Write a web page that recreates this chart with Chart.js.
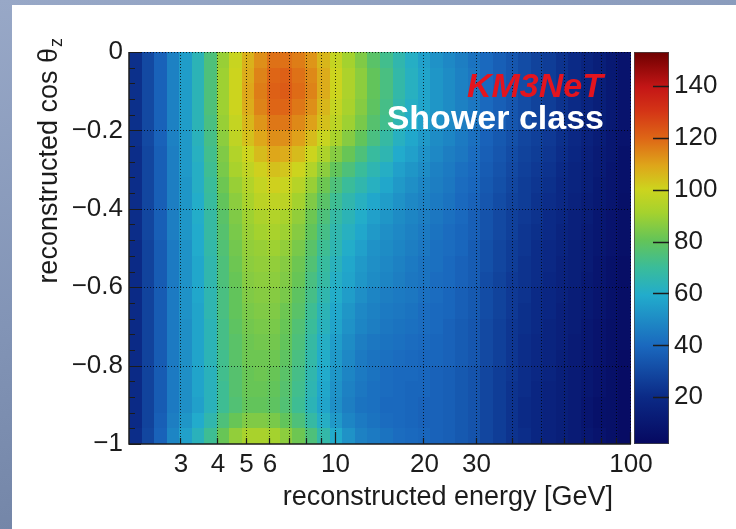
<!DOCTYPE html>
<html>
<head>
<meta charset="utf-8">
<title>Shower class: reconstructed energy vs cos theta</title>
<script src="https://cdn.jsdelivr.net/npm/chart.js@4/dist/chart.umd.min.js"></script>
<style>
  html, body { margin: 0; padding: 0; }
  body {
    width: 736px; height: 529px; overflow: hidden; position: relative;
    background: linear-gradient(165deg, #98a8c7 0%, #8294b6 45%, #67799b 100%);
  }
  #panel { position: absolute; left: 12px; top: 5px; right: 0; bottom: 0; background: #ffffff; }
  #c { position: absolute; left: 0; top: 0; }
</style>
</head>
<body>
<div id="panel"></div>
<canvas id="c" width="736" height="529"></canvas>
<script>
// Energy bin edges [GeV], 40 logarithmic bins from 2 to 100
const energyEdges = [2, 2.205, 2.432, 2.682, 2.957, 3.261, 3.596, 3.965, 4.372, 4.821,
  5.317, 5.864, 6.466, 7.130, 7.862, 8.669, 9.560, 10.54, 11.62, 12.82,
  14.14, 15.60, 17.20, 18.97, 20.91, 23.06, 25.43, 28.05, 30.93, 34.10,
  37.61, 41.47, 45.73, 50.43, 55.61, 61.33, 67.63, 74.57, 82.24, 90.69, 100];

// cos(theta_z) bin edges, top row first
const cosEdges = [0, -0.04, -0.08, -0.12, -0.16, -0.2, -0.24, -0.28, -0.32, -0.36, -0.4,
  -0.44, -0.48, -0.52, -0.56, -0.6, -0.64, -0.68, -0.72, -0.76, -0.8,
  -0.84, -0.88, -0.92, -0.96, -1];

// Event counts per bin, one line per cos(theta_z) row (top row first), 40 energy bins each
const counts = [
  [22,30,38,47,55,64,75,89,99,107,113,118,118,116,112,106,98,91,85,78,72,66,61,56,52,49,46,43,40,37,34,31,28,26,23,20,17,14,11,8],
  [22,30,38,47,55,64,75,90,100,108,115,120,121,118,114,108,100,93,87,80,74,67,62,57,53,50,47,44,40,37,34,31,28,26,23,20,17,14,11,8],
  [22,30,38,47,55,64,75,90,100,109,116,121,122,119,115,108,100,93,87,80,74,67,62,57,53,50,47,44,40,37,34,31,28,26,23,20,17,14,11,8],
  [22,30,38,47,55,64,75,90,100,108,115,120,120,117,113,106,98,92,86,79,73,66,61,57,53,50,47,44,40,37,34,31,28,26,23,20,17,14,11,8],
  [22,30,38,47,55,64,74,89,98,106,112,117,117,114,110,104,96,90,84,77,72,65,60,56,52,49,46,43,40,37,34,31,28,26,23,20,17,14,11,8],
  [22,30,38,47,54,63,73,87,97,104,109,113,113,110,105,99,92,86,80,74,68,62,58,54,50,48,45,42,38,35,32,29,27,25,22,19,16,13,10,8],
  [21,29,37,46,54,62,72,85,94,100,105,109,108,105,100,93,86,81,75,69,65,59,56,52,49,46,44,41,37,34,31,28,26,24,21,18,15,12,10,7],
  [21,29,37,46,54,61,71,84,92,97,101,104,103,100,94,87,80,75,70,65,61,56,53,50,47,45,42,40,36,33,30,27,25,23,20,17,14,12,9,7],
  [21,29,37,46,53,61,70,82,89,94,98,101,99,95,89,82,75,70,66,62,58,54,51,48,46,44,41,39,35,32,29,26,24,22,19,17,14,11,9,7],
  [21,29,37,46,53,60,69,80,87,92,96,97,96,91,85,78,71,66,62,58,55,52,49,47,45,43,40,38,34,31,28,26,23,21,19,16,13,11,9,6],
  [21,29,37,46,53,60,68,78,85,90,93,94,92,88,82,75,68,64,60,56,53,50,48,46,44,42,40,37,33,30,27,25,23,20,18,15,13,10,8,6],
  [21,29,37,46,53,59,68,77,84,89,91,92,90,86,80,73,66,62,58,54,51,49,47,45,43,41,39,37,33,30,27,24,22,20,17,15,12,10,8,6],
  [20,28,36,45,52,59,67,76,83,88,89,90,88,84,78,71,65,60,56,52,50,48,46,44,42,41,39,36,32,29,26,24,21,19,17,14,12,10,8,6],
  [20,28,36,45,52,58,66,75,82,87,88,88,86,82,76,69,63,58,54,51,49,47,45,43,42,40,38,36,32,29,26,23,21,19,16,14,12,9,7,5],
  [20,28,36,45,52,58,66,75,81,86,87,87,85,81,74,68,61,57,53,50,48,46,44,43,41,40,38,36,31,28,25,23,21,18,16,14,11,9,7,5],
  [20,28,36,45,52,58,65,74,80,85,86,86,84,79,73,66,60,55,51,48,46,45,44,42,41,39,37,35,31,28,25,23,20,18,16,13,11,9,7,5],
  [20,28,36,45,52,57,65,74,80,84,85,85,82,78,71,64,58,53,49,47,45,44,43,41,40,39,37,35,31,28,25,22,20,18,15,13,11,9,7,5],
  [20,28,36,45,51,57,64,73,79,83,84,84,81,76,70,63,57,52,48,46,44,43,42,41,40,38,36,34,30,27,24,22,20,17,15,13,10,8,6,5],
  [20,28,36,45,51,57,64,73,78,82,83,83,80,75,68,61,55,50,46,44,43,42,41,40,39,38,36,34,30,27,24,21,19,17,15,12,10,8,6,5],
  [20,28,36,45,51,57,64,72,78,82,82,82,79,74,67,60,54,49,45,43,42,41,40,39,39,38,36,34,30,27,24,21,19,17,14,12,10,8,6,4],
  [20,28,36,45,51,57,63,72,77,81,82,81,78,73,66,59,53,48,45,43,41,40,40,39,38,37,35,33,29,26,24,21,19,17,14,12,10,8,6,4],
  [20,28,36,45,51,57,63,71,77,81,81,80,77,72,65,58,52,47,44,42,41,40,39,39,38,37,35,33,29,26,23,21,18,16,14,12,10,8,6,4],
  [20,28,36,45,51,56,63,71,76,80,80,79,76,71,64,57,51,46,43,42,40,40,39,38,38,37,35,33,29,26,23,20,18,16,14,12,9,7,6,4],
  [20,28,37,46,53,59,66,75,81,85,85,84,80,75,68,61,54,48,45,43,41,40,39,38,38,37,35,33,29,26,23,20,18,16,14,12,9,7,6,4],
  [21,29,38,48,56,63,71,81,88,92,92,91,87,82,75,67,59,52,47,45,43,41,40,39,38,37,35,33,29,26,23,21,18,16,14,12,10,8,6,4]
];

// Axis ticks and labels
const energyTickLabels = [3, 4, 5, 6, 10, 20, 30, 100];
const energyGridValues = [3, 4, 5, 6, 7, 8, 9, 10, 20, 30, 40, 50, 60, 70, 80, 90, 100];
const cosTicks = [-1, -0.8, -0.6, -0.4, -0.2, 0];
const countTicks = [20, 40, 60, 80, 100, 120, 140];
const countRange = [2, 153];

// Rainbow colour palette: [fraction of z range, rgb]
const paletteStops = [
  [0.00, [6, 8, 96]],
  [0.12, [11, 42, 134]],
  [0.25, [26, 104, 190]],
  [0.38, [34, 172, 204]],
  [0.45, [58, 188, 154]],
  [0.52, [100, 196, 88]],
  [0.59, [165, 210, 46]],
  [0.65, [205, 212, 30]],
  [0.71, [222, 166, 26]],
  [0.78, [222, 102, 22]],
  [0.85, [212, 52, 22]],
  [0.91, [196, 22, 22]],
  [1.00, [110, 0, 0]]
];

const FONT = '"Liberation Sans", Arial, Helvetica, sans-serif';

function paletteColor(v) {
  let f = (v - countRange[0]) / (countRange[1] - countRange[0]);
  f = Math.max(0, Math.min(1, f));
  for (let i = 1; i < paletteStops.length; i++) {
    const [f1, c1] = paletteStops[i];
    const [f0, c0] = paletteStops[i - 1];
    if (f <= f1) {
      const t = (f - f0) / (f1 - f0);
      const c = c0.map((a, k) => Math.round(a + (c1[k] - a) * t));
      return `rgb(${c[0]},${c[1]},${c[2]})`;
    }
  }
  const c = paletteStops[paletteStops.length - 1][1];
  return `rgb(${c[0]},${c[1]},${c[2]})`;
}

// Draws the 2D histogram cells and the colour bar from the scales
const hist2dPlugin = {
  id: 'hist2d',
  beforeDraw(chart) {
    const { ctx, chartArea: a, scales: { x: xs, y: ys, z: zs } } = chart;
    ctx.save();
    ctx.beginPath();
    ctx.rect(a.left, a.top, a.right - a.left, a.bottom - a.top);
    ctx.clip();
    counts.forEach((row, r) => {
      const yTop = Math.round(ys.getPixelForValue(cosEdges[r]));
      const yBot = Math.round(ys.getPixelForValue(cosEdges[r + 1]));
      row.forEach((val, c) => {
        const x0 = Math.round(xs.getPixelForValue(energyEdges[c]));
        const x1 = Math.round(xs.getPixelForValue(energyEdges[c + 1]));
        ctx.fillStyle = paletteColor(val);
        ctx.fillRect(x0, yTop, x1 - x0, yBot - yTop);
      });
    });
    ctx.restore();

    const bx0 = a.right + 3, bx1 = a.right + 38;
    const yLo = zs.getPixelForValue(countRange[0]);
    const yHi = zs.getPixelForValue(countRange[1]);
    const grad = ctx.createLinearGradient(0, yLo, 0, yHi);
    paletteStops.forEach(([f, c]) => grad.addColorStop(f, `rgb(${c[0]},${c[1]},${c[2]})`));
    ctx.fillStyle = grad;
    ctx.fillRect(bx0, yHi, bx1 - bx0, yLo - yHi);
    ctx.strokeStyle = 'rgba(70,70,70,0.75)';
    ctx.lineWidth = 1;
    ctx.strokeRect(bx0 + 0.5, yHi + 0.5, bx1 - bx0 - 1, yLo - yHi - 1);
  },
  afterDraw(chart) {
    const { ctx, chartArea: a, scales: { x: xs, y: ys, z: zs } } = chart;
    ctx.save();

    // dotted grid
    ctx.strokeStyle = 'rgba(0,0,0,0.75)';
    ctx.lineWidth = 1;
    ctx.setLineDash([1, 2]);
    ctx.beginPath();
    energyGridValues.forEach(v => {
      const px = Math.round(xs.getPixelForValue(v)) - 0.5;
      ctx.moveTo(px, a.top); ctx.lineTo(px, a.bottom);
    });
    cosTicks.filter(v => v > -1).forEach(v => {
      const py = Math.round(ys.getPixelForValue(v)) + 0.5;
      ctx.moveTo(a.left, py); ctx.lineTo(a.right, py);
    });
    ctx.stroke();
    ctx.setLineDash([]);

    // axis lines
    ctx.strokeStyle = '#1c1c1c';
    ctx.lineWidth = 1.5;
    ctx.beginPath();
    ctx.moveTo(a.left, a.top); ctx.lineTo(a.left, a.bottom); ctx.lineTo(a.right, a.bottom);
    ctx.stroke();

    // tick marks pointing into the frame
    ctx.lineWidth = 1.2;
    ctx.beginPath();
    cosEdges.forEach(v => {
      const py = Math.round(ys.getPixelForValue(v)) + 0.5;
      const major = cosTicks.some(t => Math.abs(t - v) < 1e-9);
      ctx.moveTo(a.left, py); ctx.lineTo(a.left + (major ? 12 : 6), py);
    });
    energyGridValues.forEach(v => {
      const px = Math.round(xs.getPixelForValue(v)) - 0.5;
      const major = (v === 10 || v === 100);
      ctx.moveTo(px, a.bottom); ctx.lineTo(px, a.bottom - (major ? 12 : 6));
    });
    ctx.stroke();

    // colour bar ticks
    const bx1 = a.right + 38;
    ctx.lineWidth = 1.5;
    ctx.beginPath();
    countTicks.forEach(v => {
      const py = Math.round(zs.getPixelForValue(v)) + 0.5;
      ctx.moveTo(bx1 - 16, py); ctx.lineTo(bx1, py);
    });
    ctx.stroke();

    // axis titles
    ctx.fillStyle = '#1c1c1c';
    ctx.font = `27px ${FONT}`;
    ctx.textAlign = 'right';
    ctx.textBaseline = 'alphabetic';
    ctx.fillText('reconstructed energy [GeV]', a.right - 18, 505);

    ctx.save();
    ctx.translate(57, a.top - 14);
    ctx.rotate(-Math.PI / 2);
    ctx.font = `18px ${FONT}`;
    const subW = ctx.measureText('z').width;
    ctx.textAlign = 'right';
    ctx.fillText('z', 0, 5);
    ctx.font = `27px ${FONT}`;
    ctx.fillText('reconstructed cos \u03b8', -subW - 1, 0);
    ctx.restore();

    // experiment label
    ctx.textAlign = 'right';
    ctx.font = `italic bold 34px ${FONT}`;
    ctx.fillStyle = '#e4141e';
    ctx.fillText('KM3NeT', a.right - 28, a.top + 45);
    ctx.font = `bold 34px ${FONT}`;
    ctx.fillStyle = '#ffffff';
    ctx.fillText('Shower class', a.right - 27, a.top + 77);

    ctx.restore();
  }
};

Chart.defaults.font.family = FONT;
Chart.defaults.color = '#1c1c1c';

new Chart(document.getElementById('c'), {
  type: 'scatter',
  data: { datasets: [] },
  options: {
    responsive: false,
    animation: false,
    events: [],
    devicePixelRatio: 1,
    layout: { padding: { top: 52, right: 0, bottom: 0, left: 0 } },
    plugins: { legend: { display: false }, tooltip: { enabled: false } },
    scales: {
      x: {
        type: 'logarithmic',
        position: 'bottom',
        min: energyEdges[0],
        max: energyEdges[energyEdges.length - 1],
        grid: { display: false, drawTicks: false },
        border: { display: false },
        afterBuildTicks: s => { s.ticks = energyTickLabels.map(v => ({ value: v })); },
        afterFit: s => { s.height = 85; s.paddingLeft = 0; s.paddingRight = 0; },
        ticks: {
          autoSkip: false, maxRotation: 0, padding: 5,
          font: { size: 26 },
          callback: v => String(v)
        }
      },
      y: {
        type: 'linear',
        position: 'left',
        min: cosEdges[cosEdges.length - 1],
        max: cosEdges[0],
        grid: { display: false, drawTicks: false },
        border: { display: false },
        afterBuildTicks: s => { s.ticks = cosTicks.map(v => ({ value: v })); },
        afterFit: s => { s.width = 129; s.paddingTop = 0; s.paddingBottom = 0; },
        ticks: {
          padding: 6,
          font: { size: 26 },
          callback: v => (v === 0 ? '0' : '\u2212' + String(Math.abs(v)))
        }
      },
      z: {
        axis: 'y',
        type: 'linear',
        position: 'right',
        min: countRange[0],
        max: countRange[1],
        grid: { display: false, drawTicks: false },
        border: { display: false },
        afterBuildTicks: s => { s.ticks = countTicks.map(v => ({ value: v })); },
        afterFit: s => { s.width = 105; s.paddingTop = 0; s.paddingBottom = 0; },
        ticks: {
          padding: 43,
          font: { size: 26 },
          callback: v => String(v)
        }
      }
    }
  },
  plugins: [hist2dPlugin]
});
</script>
</body>
</html>
